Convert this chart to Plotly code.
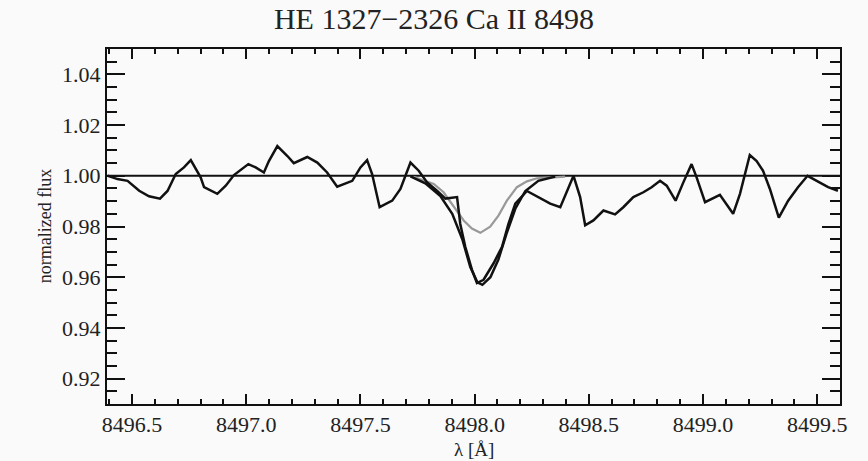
import plotly.graph_objects as go

# Observed spectrum (wavelength in Angstrom, normalized flux)
obs_wave = [8496.394, 8496.436, 8496.480, 8496.531, 8496.574, 8496.622, 8496.655, 8496.691,
            8496.727, 8496.757, 8496.800, 8496.815, 8496.873, 8496.910, 8496.946, 8496.983,
            8497.009, 8497.041, 8497.077, 8497.099, 8497.136, 8497.180, 8497.208, 8497.267,
            8497.311, 8497.354, 8497.398, 8497.464, 8497.500, 8497.529, 8497.551, 8497.584,
            8497.639, 8497.675, 8497.697, 8497.719, 8497.755, 8497.792, 8497.835, 8497.872,
            8497.923, 8497.937, 8497.959, 8497.988, 8498.010, 8498.039, 8498.083, 8498.120,
            8498.148, 8498.178, 8498.229, 8498.287, 8498.331, 8498.375, 8498.404, 8498.433,
            8498.462, 8498.484, 8498.520, 8498.564, 8498.615, 8498.651, 8498.695, 8498.739,
            8498.775, 8498.812, 8498.841, 8498.880, 8498.914, 8498.950, 8498.972, 8499.009,
            8499.074, 8499.132, 8499.162, 8499.183, 8499.205, 8499.235, 8499.263, 8499.293,
            8499.332, 8499.373, 8499.416, 8499.458, 8499.490, 8499.548, 8499.591]
obs_flux = [1.0000, 0.9987, 0.9980, 0.9941, 0.9919, 0.9910, 0.9940, 1.0007,
            1.0033, 1.0062, 0.9994, 0.9955, 0.9929, 0.9961, 1.0003, 1.0030,
            1.0046, 1.0033, 1.0013, 1.0058, 1.0117, 1.0078, 1.0050, 1.0074,
            1.0052, 1.0013, 0.9957, 0.9980, 1.0033, 1.0062, 1.0007, 0.9876,
            0.9902, 0.9948, 1.0000, 1.0052, 1.0020, 0.9974, 0.9941, 0.9910,
            0.9916, 0.9810, 0.9720, 0.9630, 0.9577, 0.9590, 0.9655, 0.9720,
            0.9810, 0.9890, 0.9940, 0.9910, 0.9890, 0.9876, 0.9935, 1.0000,
            0.9916, 0.9805, 0.9824, 0.9863, 0.9848, 0.9876, 0.9916, 0.9935,
            0.9955, 0.9980, 0.9961, 0.9902, 0.9974, 1.0046, 0.9994, 0.9896,
            0.9925, 0.9850, 0.9929, 1.0007, 1.0082, 1.0058, 1.0020, 0.9948,
            0.9835, 0.9902, 0.9955, 1.0000, 0.9983, 0.9955, 0.9941]

# Best-fit synthetic line (black)
fit_wave = [8497.719, 8497.784, 8497.850, 8497.902, 8497.946, 8497.981, 8498.012, 8498.034,
            8498.069, 8498.104, 8498.139, 8498.178, 8498.222, 8498.279, 8498.353]
fit_flux = [0.9998, 0.9970, 0.9920, 0.9850, 0.9750, 0.9640, 0.9580, 0.9570,
            0.9600, 0.9670, 0.9770, 0.9870, 0.9940, 0.9980, 0.9997]

# Comparison synthetic line (gray)
cmp_wave = [8497.732, 8497.821, 8497.864, 8497.923, 8497.952, 8497.988, 8498.025, 8498.068,
            8498.105, 8498.141, 8498.185, 8498.229, 8498.273, 8498.345, 8498.396]
cmp_flux = [0.9996, 0.9968, 0.9935, 0.9863, 0.9824, 0.9792, 0.9775, 0.9799,
            0.9844, 0.9902, 0.9955, 0.9978, 0.9990, 0.9994, 0.9997]

continuum_wave = [8496.39, 8499.60]
continuum_flux = [1.0, 1.0]

x_range = [8496.39, 8499.60]
y_range = [0.91, 1.05]

FONT = "Liberation Serif, Times New Roman, serif"
INK = "#222"

fig = go.Figure()
fig.add_trace(go.Scatter(x=continuum_wave, y=continuum_flux, mode="lines",
                         line=dict(color="#111", width=2), hoverinfo="skip"))
fig.add_trace(go.Scatter(x=cmp_wave, y=cmp_flux, mode="lines",
                         line=dict(color="#999999", width=2.2)))
fig.add_trace(go.Scatter(x=fit_wave, y=fit_flux, mode="lines",
                         line=dict(color="#111", width=2.5)))
fig.add_trace(go.Scatter(x=obs_wave, y=obs_flux, mode="lines",
                         line=dict(color="#111", width=2.5)))

fig.update_layout(
    width=868, height=461,
    margin=dict(l=107, r=28, t=49, b=57, autoexpand=False),
    paper_bgcolor="#fafafa", plot_bgcolor="#fafafa",
    showlegend=False,
    font=dict(family=FONT, color=INK, size=21),
    title=dict(text="HE 1327\u22122326 Ca II 8498", x=0.5, xanchor="center",
               y=0.982, yanchor="top", font=dict(size=30, family=FONT, color=INK)),
    annotations=[
        dict(text="\u03bb [\u00c5]", xref="paper", yref="paper", x=0.5, y=-0.128,
             xanchor="center", yanchor="middle", showarrow=False,
             font=dict(size=19, family=FONT, color=INK)),
        dict(text="normalized flux", xref="paper", yref="paper", x=-0.085, y=0.5,
             xanchor="center", yanchor="middle", showarrow=False, textangle=-90,
             font=dict(size=18, family=FONT, color=INK)),
    ],
)
fig.update_xaxes(
    range=x_range, showgrid=False, zeroline=False, automargin=False,
    showline=True, linecolor="#111", linewidth=2, mirror="ticks",
    ticks="inside", ticklen=10, tickwidth=2, tickcolor="#111",
    dtick=0.5, tick0=8496.5, tickformat=".1f",
    minor=dict(ticks="inside", dtick=0.1, tick0=8496.5, ticklen=5, tickwidth=2, tickcolor="#111", showgrid=False),
    tickfont=dict(size=22, family=FONT, color=INK),
)
fig.update_yaxes(
    range=y_range, showgrid=False, zeroline=False, automargin=False,
    showline=True, linecolor="#111", linewidth=2, mirror="ticks",
    ticks="inside", ticklen=18, tickwidth=2, tickcolor="#111",
    dtick=0.02, tick0=0.92, tickformat=".2f",
    minor=dict(ticks="inside", dtick=0.005, tick0=0.91, ticklen=10, tickwidth=2, tickcolor="#111", showgrid=False),
    tickfont=dict(size=22, family=FONT, color=INK),
)

fig.write_html("out.html",
               config={"displayModeBar": False},
               post_script="document.body.style.margin='0';document.body.style.background='#fafafa';")
